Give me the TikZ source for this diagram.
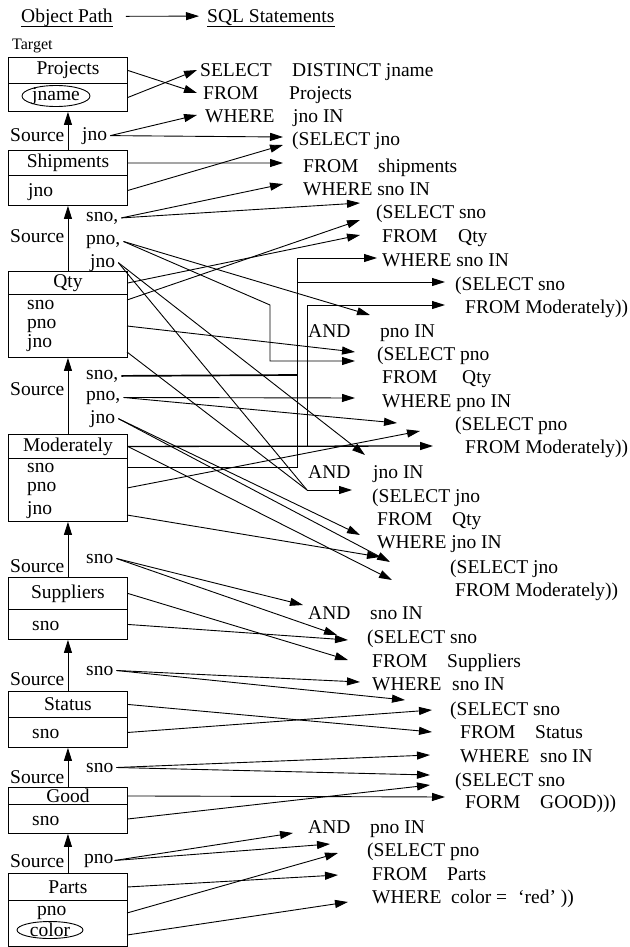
\documentclass[tikz,border=0pt]{standalone}
\usepackage{fontspec}
\setmainfont{Liberation Serif}
\usetikzlibrary{arrows.meta}
\begin{document}
\begin{tikzpicture}[x=1pt,y=-1pt,
  every node/.style={inner sep=0pt, font=\fontsize{19.5}{23}\selectfont},
  txt/.style={anchor=base west},
  box/.style={draw, line width=0.9pt, minimum width=119pt, anchor=north west},
  ln/.style={line width=0.9pt},
  arr/.style={line width=0.9pt, -{Triangle[length=13pt,width=8pt]}},
  thk/.style={line width=1.7pt},
]
\useasboundingbox (0,0) rectangle (629,947);
% ---------- title ----------
\node[txt] (op) at (21,23) {Object Path};
\node[txt] (sq) at (207,23) {SQL Statements};
\draw[ln] ([yshift=-3pt]op.base west) -- ([yshift=-3pt]op.base east);
\draw[ln] ([yshift=-3pt]sq.base west) -- ([yshift=-3pt]sq.base east);
\draw[arr] ([xshift=13pt,yshift=2pt]op.east) -- ([xshift=-8pt,yshift=2pt]sq.west);
\node[txt, font=\fontsize{16}{18}\selectfont] (target) at (12,50) {Target};
% ---------- boxes ----------
\node[box, minimum height=26pt] (projH) at (8,57) {Projects};
\node[box, minimum height=28pt] (projB) at (8,83) {};
\draw[ln] (56,96) ellipse [x radius=34, y radius=10.5];
\node (jname) at (56,96) {jname};

\node[box, minimum height=25pt] (shipH) at (8,150) {Shipments};
\node[box, minimum height=30pt] (shipB) at (8,175) {};
\node[txt] (shipJ) at (28,196) {jno};

\node[box, minimum height=23pt] (qtyH) at (8,271) {Qty};
\node[box, minimum height=63pt] (qtyB) at (8,294) {};
\node[txt] (qtyS) at (27,309) {sno};
\node[txt] (qtyP) at (27,328) {pno};
\node[txt] (qtyJ) at (27,347) {jno};

\node[box, minimum height=24pt] (modH) at (8,434) {Moderately};
\node[box, minimum height=63pt] (modB) at (8,458) {};
\node[txt] (modS) at (27,472) {sno};
\node[txt] (modP) at (27,491) {pno};
\node[txt] (modJ) at (27,514) {jno};

\node[box, minimum height=32pt] (supH) at (8,577) {Suppliers};
\node[box, minimum height=30pt] (supB) at (8,609) {};
\node[txt] (supS) at (32,630) {sno};

\node[box, minimum height=26pt] (staH) at (8,691) {Status};
\node[box, minimum height=30pt] (staB) at (8,717) {};
\node[txt] (staS) at (32,738) {sno};

\node[box, minimum height=17pt] (gooH) at (8,787) {Good};
\node[box, minimum height=29pt] (gooB) at (8,804) {};
\node[txt] (gooS) at (32,825) {sno};

\node[box, minimum height=27pt] (parH) at (8,873) {Parts};
\node[box, minimum height=46pt] (parB) at (8,900) {};
\node[txt] (parP) at (37,915) {pno};
\draw[ln] (50,930) ellipse [x radius=33, y radius=8.5];
\node (color) at (50,930) {color};

% ---------- source arrows ----------
\draw[arr] (shipH.north) -- (projB.south);
\draw[arr] (qtyH.north) -- (shipB.south);
\draw[arr] (modH.north) -- (qtyB.south);
\draw[arr] (supH.north) -- (modB.south);
\draw[arr] (staH.north) -- (supB.south);
\draw[arr] (gooH.north) -- (staB.south);
\draw[arr] (parH.north) -- (gooB.south);
\node[txt] (src1) at (10,142) {Source};
\node[txt] (src2) at (10,242) {Source};
\node[txt] (src3) at (10,395) {Source};
\node[txt] (src4) at (10,572) {Source};
\node[txt] (src5) at (10,685) {Source};
\node[txt] (src6) at (10,783) {Source};
\node[txt] (src7) at (10,867) {Source};
% gap labels
\node[txt] (jno1) at (82,140) {jno};
\node[txt] (sno2) at (86,221) {sno,};
\node[txt] (pno2) at (86,244) {pno,};
\node[txt] (jno2) at (90,267) {jno};
\node[txt] (sno3) at (86,379) {sno,};
\node[txt] (pno3) at (86,400) {pno,};
\node[txt] (jno3) at (90,423) {jno};
\node[txt] (sno4) at (86,563) {sno};
\node[txt] (sno5) at (86,675) {sno};
\node[txt] (sno6) at (86,772) {sno};
\node[txt] (pno7) at (84,863) {pno};

% ---------- SQL text ----------
\node[txt] (q1a) at (200,77) {SELECT};  \node[txt] (q1b) at (292,77) {DISTINCT jname};
\node[txt] (q2a) at (203,100) {FROM};   \node[txt] (q2b) at (289,100) {Projects};
\node[txt] (q3a) at (205,122) {WHERE};  \node[txt] (q3b) at (293,122) {jno IN};
\node[txt] (q4) at (292,146) {(SELECT jno};
\node[txt] (q5a) at (303,172) {FROM};   \node[txt] (q5b) at (378,172) {shipments};
\node[txt] (q6) at (303,195) {WHERE sno IN};
\node[txt] (q7) at (376,218) {(SELECT sno};
\node[txt] (q8a) at (382,242) {FROM};   \node[txt] (q8b) at (458,242) {Qty};
\node[txt] (q9) at (382,266) {WHERE sno IN};
\node[txt] (q10) at (455,290) {(SELECT sno};
\node[txt] (q11) at (465,313) {FROM Moderately))};
\node[txt] (q12a) at (308,337) {AND};   \node[txt] (q12b) at (380,337) {pno IN};
\node[txt] (q13) at (377,360) {(SELECT pno};
\node[txt] (q14a) at (382,383) {FROM};  \node[txt] (q14b) at (462,383) {Qty};
\node[txt] (q15) at (382,407) {WHERE pno IN};
\node[txt] (q16) at (455,430) {(SELECT pno};
\node[txt] (q17) at (465,453) {FROM Moderately))};
\node[txt] (q18a) at (308,478) {AND};   \node[txt] (q18b) at (373,478) {jno IN};
\node[txt] (q19) at (372,502) {(SELECT jno};
\node[txt] (q20a) at (377,525) {FROM};  \node[txt] (q20b) at (452,525) {Qty};
\node[txt] (q21) at (377,548) {WHERE jno IN};
\node[txt] (q22) at (450,573) {(SELECT jno};
\node[txt] (q23) at (455,596) {FROM Moderately))};
\node[txt] (q24a) at (308,619) {AND};   \node[txt] (q24b) at (370,619) {sno IN};
\node[txt] (q25) at (367,643) {(SELECT sno};
\node[txt] (q26a) at (372,667) {FROM};  \node[txt] (q26b) at (447,667) {Suppliers};
\node[txt] (q27a) at (372,690) {WHERE}; \node[txt] (q27b) at (452,690) {sno IN};
\node[txt] (q28) at (450,715) {(SELECT sno};
\node[txt] (q29a) at (460,738) {FROM};  \node[txt] (q29b) at (535,738) {Status};
\node[txt] (q30a) at (460,762) {WHERE}; \node[txt] (q30b) at (540,762) {sno IN};
\node[txt] (q31) at (455,786) {(SELECT sno};
\node[txt] (q32a) at (465,808) {FORM};  \node[txt] (q32b) at (540,808) {GOOD)))};
\node[txt] (q33a) at (308,833) {AND};   \node[txt] (q33b) at (370,833) {pno IN};
\node[txt] (q34) at (367,856) {(SELECT pno};
\node[txt] (q35a) at (372,880) {FROM};  \node[txt] (q35b) at (447,880) {Parts};
\node[txt] (q36a) at (372,903) {WHERE}; \node[txt] (q36b) at (451,903) {color =};
\node[txt] (q36c) at (518,903) {‘red’ ))};

% ---------- coordinates ----------
\coordinate (qsE) at (127,300);
\coordinate (qpE) at (127,326);
\coordinate (qjE) at (127,352);
\coordinate (msE) at (127,467);
\coordinate (mpE) at (127,488);
\coordinate (mjE) at (127,515);
\coordinate (ppE) at (127,913);
\coordinate (pcE) at (127,935);

\coordinate (t1) at (197,93);
\coordinate (t2) at (197,70);
\coordinate (t3) at (197,115);
\coordinate (t4) at (283,137);
\coordinate (t5) at (283,145);
\coordinate (t6) at (283,163);
\coordinate (t7) at (283,184);
\coordinate (t8) at (360,203);
\coordinate (t9) at (360,235);
\coordinate (t10) at (360,220);
\coordinate (t11) at (370,315);
\coordinate (c12a) at (270,305);
\coordinate (c12b) at (270,361);
\coordinate (t12) at (355,361);
\coordinate (t13) at (355,352);
\coordinate (t14) at (365,455);
\coordinate (c15) at (307,490);
\coordinate (t15) at (352,490);
\coordinate (c16) at (297,375);
\coordinate (c17) at (297,467);
\coordinate (c18) at (297,258);
\coordinate (t18) at (377,258);
\coordinate (c19) at (297,282);
\coordinate (t19) at (445,282);
\coordinate (t20) at (433,446);
\coordinate (c21) at (307,446);
\coordinate (c22) at (307,305);
\coordinate (t22) at (445,305);
\coordinate (t23) at (355,398);
\coordinate (t24) at (397,423);
\coordinate (t25) at (420,431);
\coordinate (t26) at (392,580);
\coordinate (t27) at (360,535);
\coordinate (t28) at (390,562);
\coordinate (t29) at (380,557);
\coordinate (t30) at (303,605);
\coordinate (t31) at (337,635);
\coordinate (t32) at (348,660);
\coordinate (t33) at (348,640);
\coordinate (t34) at (360,682);
\coordinate (t35) at (405,700);
\coordinate (t36) at (432,732);
\coordinate (t37) at (432,710);
\coordinate (t38) at (430,755);
\coordinate (t39) at (430,775);
\coordinate (t40) at (445,797);
\coordinate (t41) at (430,785);
\coordinate (t42) at (293,833);
\coordinate (t43) at (330,844);
\coordinate (t44) at (338,875);
\coordinate (t45) at (338,853);
\coordinate (t46) at (348,902);

% ---------- connectors ----------
\draw[arr] (projH.east) -- (t1);
\draw[arr] (projB.east) -- (t2);
\draw[arr] ([xshift=3pt]jno1.east) -- (t3);
\draw[arr] ([xshift=3pt]jno1.east) -- (t4);
\draw[arr] (shipB.east) -- (t5);
\draw[arr] (shipH.east) -- (t6);
\draw[arr] ([xshift=3pt]sno2.east) -- (t7);
\draw[arr] ([xshift=3pt]sno2.east) -- (t8);
\draw[arr] (qtyH.east) -- (t9);
\draw[arr] (qsE) -- (t10);
\draw[arr] ([xshift=3pt]pno2.east) -- (t11);
\draw[arr] ([xshift=3pt]pno2.east) -- (c12a) -- (c12b) -- (t12);
\draw[arr] (qpE) -- (t13);
\draw[arr] ([xshift=3pt]jno2.east) -- (t14);
\draw[ln] ([xshift=3pt]jno2.east) -- (c15);
\draw[ln] (qjE) -- (c15);
\draw[arr] (c15) -- (t15);
\draw[thk] ([xshift=3pt]sno3.east) -- (c16);
\draw[ln] (msE) -- (c17) -- (c18);
\draw[arr] (c18) -- (t18);
\draw[arr] (c19) -- (t19);
\draw[arr, line width=1.3pt] (modH.east) -- (t20);
\draw[ln] (c21) -- (c22);
\draw[arr] (c22) -- (t22);
\draw[arr] ([xshift=3pt]pno3.east) -- (t23);
\draw[arr] ([xshift=3pt]pno3.east) -- (t24);
\draw[arr] (mpE) -- (t25);
\draw[arr] (modH.east) -- (t26);
\draw[arr] ([xshift=3pt]jno3.east) -- (t27);
\draw[arr] ([xshift=3pt]jno3.east) -- (t28);
\draw[arr] (mjE) -- (t29);
\draw[arr] ([xshift=3pt]sno4.east) -- (t30);
\draw[arr] ([xshift=3pt]sno4.east) -- (t31);
\draw[arr] (supH.east) -- (t32);
\draw[arr] (supB.east) -- (t33);
\draw[arr] ([xshift=3pt]sno5.east) -- (t34);
\draw[arr] ([xshift=3pt]sno5.east) -- (t35);
\draw[arr] (staH.east) -- (t36);
\draw[arr] (staB.east) -- (t37);
\draw[arr] ([xshift=3pt]sno6.east) -- (t38);
\draw[arr] ([xshift=3pt]sno6.east) -- (t39);
\draw[arr] (gooH.east) -- (t40);
\draw[arr] (gooB.east) -- (t41);
\draw[arr] ([xshift=1pt]pno7.east) -- (t42);
\draw[arr] ([xshift=1pt]pno7.east) -- (t43);
\draw[arr] (parH.east) -- (t44);
\draw[arr] (ppE) -- (t45);
\draw[arr] (pcE) -- (t46);
\end{tikzpicture}
\end{document}
